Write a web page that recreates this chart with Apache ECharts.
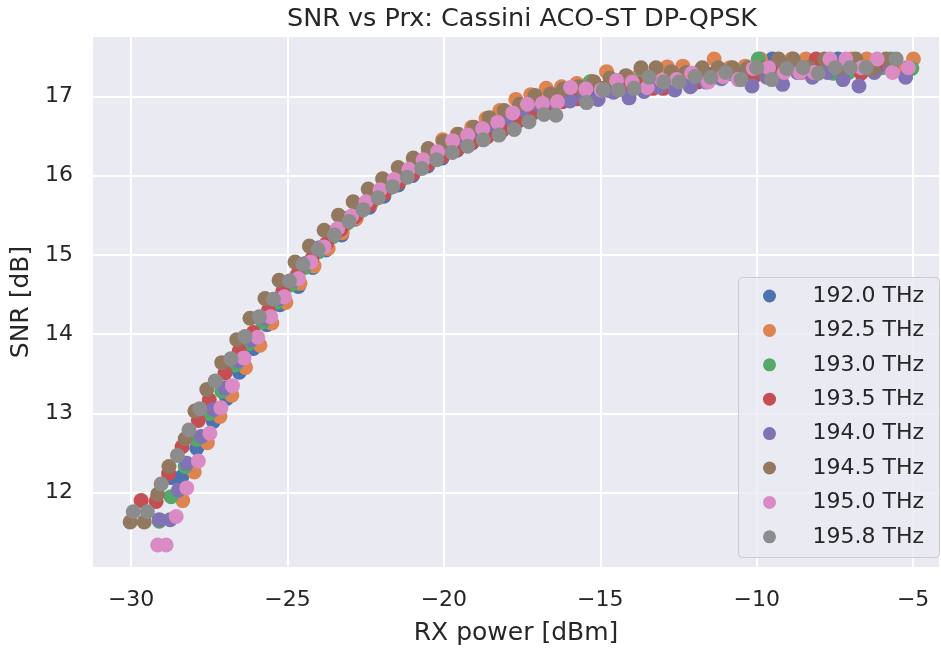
<!DOCTYPE html>
<html>
<head>
<meta charset="utf-8">
<script src="https://cdn.jsdelivr.net/npm/echarts@6/dist/echarts.min.js"></script>
<style>
  html, body { margin: 0; padding: 0; background: #fff; }
  #chart { width: 941px; height: 648px; }
</style>
</head>
<body>
<div id="chart"></div>
<script>
// legend labels and seaborn "deep" colours
const seriesNames = ['192.0 THz', '192.5 THz', '193.0 THz', '193.5 THz', '194.0 THz', '194.5 THz', '195.0 THz', '195.8 THz'];
const seriesColors = ['#4C72B0', '#DD8452', '#55A868', '#C44E52', '#8172B3', '#937860', '#DA8BC3', '#8C8C8C'];

// [RX power dBm, SNR dB] per channel
const snr1920 = [
  [-28.70, 12.19], [-28.38, 12.20], [-27.90, 12.56], [-27.37, 12.90], [-26.94, 13.19], [-26.54, 13.52],
  [-26.09, 13.82], [-25.66, 14.12], [-25.24, 14.37], [-24.65, 14.60], [-24.19, 14.84], [-23.77, 15.06],
  [-23.27, 15.25], [-22.84, 15.45], [-22.38, 15.60], [-21.92, 15.74], [-21.46, 15.88], [-21.00, 16.00],
  [-20.52, 16.12], [-20.06, 16.22], [-19.58, 16.32], [-19.10, 16.41], [-18.62, 16.50], [-18.14, 16.58],
  [-17.66, 16.68], [-17.18, 16.78], [-16.70, 16.86], [-16.22, 16.94], [-15.74, 16.98], [-15.26, 17.04],
  [-14.78, 17.08], [-14.30, 17.10], [-13.82, 17.14], [-13.34, 17.18], [-12.86, 17.17], [-12.38, 17.20],
  [-11.90, 17.24], [-11.42, 17.26], [-10.94, 17.28], [-10.46, 17.30], [-9.98, 17.36], [-9.50, 17.47],
  [-9.02, 17.36], [-8.54, 17.36], [-8.06, 17.36], [-7.40, 17.47], [-7.10, 17.36], [-6.62, 17.36],
  [-6.14, 17.36], [-5.66, 17.36], [-5.18, 17.36]
];
const snr1925 = [
  [-28.35, 11.90], [-27.98, 12.26], [-27.56, 12.63], [-27.16, 12.96], [-26.78, 13.23], [-26.34, 13.58],
  [-25.88, 13.86], [-25.50, 14.14], [-25.05, 14.40], [-24.60, 14.64], [-24.15, 14.86], [-23.70, 15.08],
  [-23.25, 15.28], [-22.80, 15.46], [-22.34, 15.64], [-21.88, 15.80], [-21.42, 15.95], [-20.96, 16.10],
  [-20.50, 16.30], [-20.04, 16.45], [-19.58, 16.52], [-19.11, 16.61], [-18.65, 16.72], [-18.21, 16.82],
  [-17.70, 16.96], [-17.22, 17.02], [-16.73, 17.10], [-16.24, 17.12], [-15.75, 17.16], [-15.28, 17.19],
  [-14.80, 17.31], [-14.32, 17.20], [-13.86, 17.23], [-13.36, 17.25], [-12.86, 17.37], [-12.36, 17.38],
  [-11.86, 17.30], [-11.36, 17.47], [-10.86, 17.36], [-10.37, 17.38], [-9.88, 17.47], [-9.38, 17.36],
  [-8.88, 17.47], [-8.43, 17.47], [-7.94, 17.36], [-7.45, 17.36], [-6.97, 17.47], [-6.48, 17.47],
  [-5.98, 17.36], [-5.48, 17.36], [-4.99, 17.47]
];
const snr1930 = [
  [-29.10, 11.64], [-28.72, 11.95], [-28.27, 12.33], [-27.90, 12.67], [-27.50, 13.00], [-27.10, 13.28],
  [-26.68, 13.61], [-26.25, 13.88], [-25.80, 14.15], [-25.35, 14.40], [-24.90, 14.62], [-24.45, 14.84],
  [-24.00, 15.04], [-23.55, 15.23], [-23.10, 15.40], [-22.64, 15.56], [-22.18, 15.71], [-21.72, 15.85],
  [-21.26, 15.98], [-20.80, 16.10], [-20.34, 16.21], [-19.86, 16.31], [-19.38, 16.40], [-18.90, 16.48],
  [-18.42, 16.57], [-17.94, 16.66], [-17.46, 16.72], [-16.98, 16.82], [-16.50, 16.90], [-16.02, 16.98],
  [-15.80, 17.00], [-15.33, 17.18], [-14.84, 17.10], [-14.32, 17.12], [-13.84, 17.19], [-13.35, 17.15],
  [-12.86, 17.20], [-12.36, 17.22], [-11.84, 17.26], [-11.36, 17.24], [-10.96, 17.30], [-10.50, 17.31],
  [-9.95, 17.47], [-9.48, 17.36], [-9.00, 17.36], [-8.52, 17.36], [-8.04, 17.36], [-7.56, 17.29],
  [-7.06, 17.30], [-6.55, 17.36], [-6.05, 17.36], [-5.70, 17.47], [-5.04, 17.35]
];
const snr1935 = [
  [-29.68, 11.90], [-29.20, 11.89], [-28.80, 12.24], [-28.37, 12.58], [-27.85, 12.91], [-27.50, 13.17],
  [-27.00, 13.51], [-26.54, 13.79], [-26.09, 14.02], [-25.61, 14.30], [-25.15, 14.54], [-24.68, 14.75],
  [-24.22, 14.95], [-23.76, 15.14], [-23.30, 15.32], [-22.84, 15.48], [-22.38, 15.63], [-21.92, 15.77],
  [-21.46, 15.91], [-21.00, 16.02], [-20.52, 16.14], [-20.05, 16.24], [-19.57, 16.33], [-19.09, 16.42],
  [-18.61, 16.49], [-18.13, 16.57], [-17.65, 16.68], [-17.17, 16.80], [-16.56, 16.87], [-16.21, 16.93],
  [-15.73, 16.97], [-15.00, 17.10], [-14.77, 17.08], [-14.28, 17.12], [-13.80, 17.15], [-13.32, 17.10],
  [-12.99, 17.10], [-12.36, 17.24], [-11.88, 17.18], [-11.40, 17.28], [-10.92, 17.30], [-10.44, 17.26],
  [-10.06, 17.26], [-9.58, 17.36], [-9.10, 17.36], [-8.58, 17.30], [-8.10, 17.47], [-7.62, 17.36],
  [-7.14, 17.36], [-6.66, 17.29], [-6.18, 17.36], [-5.70, 17.36]
];
const snr1940 = [
  [-29.10, 11.66], [-28.75, 11.66], [-28.49, 12.03], [-28.22, 12.37], [-27.76, 12.71], [-27.37, 13.05],
  [-27.00, 13.32], [-26.57, 13.66], [-26.15, 13.93], [-25.72, 14.20], [-25.28, 14.45], [-24.84, 14.68],
  [-24.42, 14.89], [-23.98, 15.09], [-23.55, 15.28], [-23.10, 15.46], [-22.65, 15.62], [-22.20, 15.78],
  [-21.75, 15.91], [-21.28, 16.04], [-20.82, 16.16], [-20.36, 16.27], [-19.88, 16.38], [-19.40, 16.47],
  [-18.92, 16.56], [-18.44, 16.64], [-17.96, 16.74], [-17.48, 16.84], [-17.00, 16.90], [-16.48, 16.93],
  [-15.97, 16.94], [-15.52, 16.99], [-15.07, 16.96], [-14.58, 17.05], [-14.08, 16.98], [-13.60, 17.06],
  [-13.12, 17.12], [-12.62, 17.08], [-12.12, 17.12], [-11.62, 17.18], [-11.13, 17.22], [-10.64, 17.25],
  [-10.15, 17.13], [-9.68, 17.24], [-9.17, 17.15], [-8.70, 17.30], [-8.22, 17.24], [-7.73, 17.30],
  [-7.24, 17.21], [-6.73, 17.13], [-6.24, 17.30], [-5.74, 17.36], [-5.24, 17.24]
];
const snr1945 = [
  [-30.03, 11.63], [-29.58, 11.63], [-29.15, 11.98], [-28.79, 12.33], [-28.27, 12.68], [-27.96, 13.03],
  [-27.58, 13.30], [-27.10, 13.64], [-26.62, 13.93], [-26.20, 14.20], [-25.72, 14.45], [-25.27, 14.68],
  [-24.76, 14.91], [-24.30, 15.11], [-23.83, 15.31], [-23.37, 15.50], [-22.90, 15.67], [-22.42, 15.83],
  [-21.96, 15.96], [-21.46, 16.10], [-20.98, 16.22], [-20.50, 16.34], [-20.02, 16.43], [-19.54, 16.52],
  [-19.04, 16.61], [-18.55, 16.73], [-18.07, 16.82], [-17.58, 16.90], [-17.09, 17.01], [-16.59, 17.03],
  [-16.18, 17.09], [-15.70, 17.12], [-15.20, 17.18], [-14.69, 17.23], [-14.18, 17.26], [-13.70, 17.36],
  [-13.22, 17.36], [-12.73, 17.31], [-12.26, 17.30], [-11.74, 17.36], [-11.23, 17.36], [-10.77, 17.36],
  [-10.28, 17.36], [-9.78, 17.36], [-9.30, 17.47], [-8.83, 17.47], [-8.33, 17.36], [-7.83, 17.47],
  [-7.33, 17.36], [-6.83, 17.47], [-6.29, 17.35], [-5.87, 17.47]
];
const snr1950 = [
  [-29.15, 11.34], [-28.88, 11.34], [-28.56, 11.70], [-28.22, 12.06], [-27.85, 12.40], [-27.48, 12.75],
  [-27.13, 13.07], [-26.76, 13.35], [-26.39, 13.70], [-25.95, 13.96], [-25.54, 14.22], [-25.10, 14.47],
  [-24.65, 14.70], [-24.25, 14.91], [-23.83, 15.10], [-23.40, 15.33], [-22.95, 15.49], [-22.49, 15.67],
  [-22.04, 15.82], [-21.59, 15.95], [-21.12, 16.08], [-20.66, 16.20], [-20.20, 16.30], [-19.72, 16.44],
  [-19.24, 16.51], [-18.76, 16.59], [-18.28, 16.67], [-17.80, 16.79], [-17.33, 16.90], [-16.85, 16.91],
  [-16.37, 16.93], [-15.95, 17.11], [-15.46, 17.09], [-14.97, 17.08], [-14.48, 17.20], [-13.98, 17.18],
  [-13.50, 17.11], [-13.03, 17.20], [-12.56, 17.21], [-12.08, 17.29], [-11.55, 17.18], [-11.07, 17.25],
  [-10.59, 17.21], [-10.11, 17.35], [-9.62, 17.36], [-9.12, 17.30], [-8.62, 17.30], [-8.17, 17.30],
  [-7.66, 17.47], [-7.15, 17.47], [-6.65, 17.36], [-6.15, 17.47], [-5.66, 17.30], [-5.15, 17.36]
];
const snr1958 = [
  [-29.93, 11.76], [-29.48, 11.76], [-29.04, 12.11], [-28.52, 12.47], [-28.15, 12.79], [-27.80, 13.06],
  [-27.31, 13.41], [-26.81, 13.69], [-26.36, 13.97], [-25.90, 14.22], [-25.45, 14.44], [-24.94, 14.67],
  [-24.51, 14.88], [-24.02, 15.07], [-23.50, 15.25], [-23.03, 15.42], [-22.58, 15.57], [-22.10, 15.72],
  [-21.64, 15.86], [-21.17, 15.98], [-20.71, 16.09], [-20.23, 16.20], [-19.73, 16.29], [-19.24, 16.37],
  [-18.74, 16.45], [-18.24, 16.51], [-17.75, 16.58], [-17.28, 16.68], [-16.80, 16.77], [-16.42, 16.76],
  [-15.44, 16.92], [-14.90, 17.08], [-14.42, 17.08], [-13.92, 17.10], [-13.44, 17.24], [-12.97, 17.18],
  [-12.48, 17.18], [-11.97, 17.25], [-11.47, 17.24], [-10.99, 17.30], [-10.50, 17.21], [-10.00, 17.36],
  [-9.52, 17.21], [-9.04, 17.35], [-8.52, 17.36], [-8.03, 17.29], [-7.49, 17.36], [-7.01, 17.36],
  [-6.50, 17.36], [-5.54, 17.47]
];
const seriesData = [snr1920, snr1925, snr1930, snr1935, snr1940, snr1945, snr1950, snr1958];

const xTicks = [-30, -25, -20, -15, -10, -5];
const yTicks = [12, 13, 14, 15, 16, 17];

const textColor = '#262626';
const font = 'DejaVu Sans';

function fmtTick(ticks) {
  return (v) => {
    const hit = ticks.find((t) => Math.abs(t - v) < 1e-6);
    if (hit === undefined) return '';
    return hit < 0 ? '\u2212' + Math.abs(hit) : String(hit);
  };
}

const chart = echarts.init(document.getElementById('chart'), null, { renderer: 'canvas' });

const option = {
  animation: false,
  backgroundColor: '#ffffff',
  title: {
    text: 'SNR vs Prx: Cassini ACO-ST DP-QPSK',
    left: 517,
    top: 1,
    textAlign: 'center',
    textStyle: { fontFamily: font, fontSize: 25.5, fontWeight: 'normal', color: textColor },
  },
  grid: {
    left: 92, right: 1, top: 36, bottom: 80,
    outerBoundsMode: 'none',
    show: true, backgroundColor: '#EAEAF2', borderWidth: 0,
  },
  xAxis: {
    type: 'value',
    min: -31.25, max: -4.14,
    splitNumber: 5,
    name: 'RX power [dBm]',
    nameLocation: 'middle',
    nameGap: 53,
    nameTextStyle: { fontFamily: font, fontSize: 25, color: textColor },
    axisLine: { show: false },
    axisTick: { show: false },
    axisLabel: {
      margin: 21, fontFamily: font, fontSize: 22, color: textColor,
      showMinLabel: false, showMaxLabel: false, formatter: fmtTick(xTicks),
    },
    splitLine: { show: true, lineStyle: { color: '#ffffff', width: 2 } },
  },
  yAxis: {
    type: 'value',
    min: 11.05, max: 17.76,
    splitNumber: 6,
    name: 'SNR [dB]',
    nameLocation: 'middle',
    nameGap: 57,
    nameTextStyle: { fontFamily: font, fontSize: 25, color: textColor },
    axisLine: { show: false },
    axisTick: { show: false },
    axisLabel: {
      margin: 19, fontFamily: font, fontSize: 22, color: textColor,
      showMinLabel: false, showMaxLabel: false, formatter: fmtTick(yTicks),
    },
    splitLine: { show: true, lineStyle: { color: '#ffffff', width: 2 } },
  },
  legend: {
    orient: 'vertical',
    left: 763, top: 279,
    padding: 0,
    itemGap: 0.4,
    itemWidth: 76, itemHeight: 13,
    icon: 'circle',
    z: 10,
    textStyle: { fontFamily: font, fontSize: 22, color: textColor, lineHeight: 34 },
    data: seriesNames,
  },
  graphic: [{
    type: 'rect',
    z: 9,
    shape: { x: 738.5, y: 277.5, width: 201, height: 280, r: 4 },
    style: { fill: 'rgba(234,234,242,0.8)', stroke: '#cccccc', lineWidth: 1 },
  }],
  series: seriesNames.map((name, i) => ({
    name,
    type: 'scatter',
    data: seriesData[i],
    symbol: 'circle',
    symbolSize: 15,
    itemStyle: { color: seriesColors[i], opacity: 1 },
    emphasis: { disabled: true },
  })),
};

chart.setOption(option);
</script>
</body>
</html>
